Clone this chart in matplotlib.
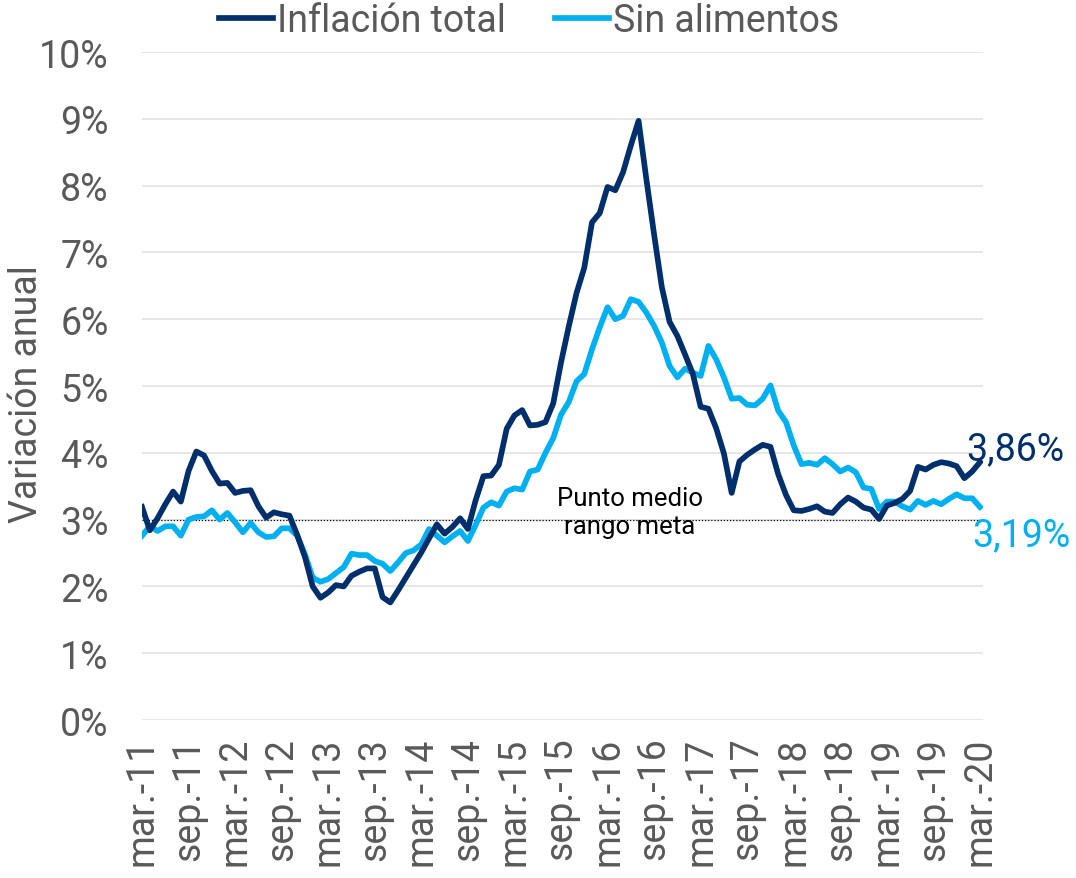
import matplotlib
matplotlib.use("Agg")
import matplotlib.pyplot as plt

# Monthly annual inflation, mar-2011 .. mar-2020
inflacion_total = [
    3.19, 2.84, 3.02, 3.23, 3.42, 3.27, 3.73, 4.02, 3.96, 3.73,
    3.54, 3.55, 3.40, 3.43, 3.44, 3.20, 3.03, 3.11, 3.08, 3.06, 2.77, 2.44,
    2.00, 1.83, 1.91, 2.02, 2.00, 2.16, 2.22, 2.27, 2.27, 1.84, 1.76, 1.94,
    2.13, 2.32, 2.51, 2.72, 2.93, 2.79, 2.89, 3.02, 2.86, 3.29, 3.65, 3.66,
    3.82, 4.36, 4.56, 4.64, 4.41, 4.42, 4.46, 4.74, 5.35, 5.89, 6.39, 6.77,
    7.45, 7.59, 7.98, 7.93, 8.20, 8.60, 8.97, 8.10, 7.27, 6.48, 5.96, 5.75,
    5.47, 5.18, 4.69, 4.66, 4.37, 3.99, 3.40, 3.87, 3.97, 4.05, 4.12, 4.09,
    3.68, 3.37, 3.14, 3.13, 3.16, 3.20, 3.12, 3.10, 3.23, 3.33, 3.27, 3.18,
    3.15, 3.01, 3.21, 3.25, 3.31, 3.43, 3.79, 3.75, 3.82, 3.86, 3.84, 3.80,
    3.62, 3.72, 3.86,
]

sin_alimentos = [
    2.76, 2.90, 2.83, 2.90, 2.90, 2.76, 3.00, 3.04, 3.05, 3.14,
    3.00, 3.10, 2.96, 2.81, 2.95, 2.81, 2.74, 2.75, 2.87, 2.87, 2.76, 2.48,
    2.13, 2.07, 2.11, 2.20, 2.29, 2.49, 2.47, 2.47, 2.38, 2.34, 2.23, 2.36,
    2.50, 2.54, 2.63, 2.86, 2.76, 2.66, 2.75, 2.83, 2.68, 2.92, 3.18, 3.26,
    3.21, 3.42, 3.47, 3.45, 3.72, 3.75, 4.00, 4.22, 4.57, 4.76, 5.07, 5.18,
    5.55, 5.88, 6.18, 6.00, 6.05, 6.30, 6.26, 6.10, 5.90, 5.65, 5.30, 5.13,
    5.26, 5.20, 5.15, 5.60, 5.40, 5.13, 4.81, 4.82, 4.72, 4.71, 4.81, 5.01,
    4.63, 4.46, 4.11, 3.83, 3.85, 3.82, 3.92, 3.83, 3.72, 3.78, 3.71, 3.48,
    3.46, 3.16, 3.27, 3.27, 3.20, 3.15, 3.28, 3.22, 3.28, 3.23, 3.31, 3.38,
    3.32, 3.32, 3.19,
]

tick_labels = [
    "mar.-11", "sep.-11", "mar.-12", "sep.-12", "mar.-13", "sep.-13",
    "mar.-14", "sep.-14", "mar.-15", "sep.-15", "mar.-16", "sep.-16",
    "mar.-17", "sep.-17", "mar.-18", "sep.-18", "mar.-19", "sep.-19",
    "mar.-20",
]

meta = 3.0

DARK = "#002F6C"
LIGHT = "#00B0F0"
GREY = "#595959"


def main():
    plt.rcParams["font.family"] = ["Roboto", "DejaVu Sans"]

    fig = plt.figure(figsize=(10.76, 8.79), dpi=100)
    ax = fig.add_axes([0.132, 0.1797, 0.7816, 0.76])

    x = list(range(len(inflacion_total)))
    ax.plot(x, inflacion_total, color=DARK, lw=4.1, label="Inflación total",
            solid_joinstyle="round", zorder=3)
    ax.plot(x, sin_alimentos, color=LIGHT, lw=4.1, label="Sin alimentos",
            solid_joinstyle="round", zorder=2)

    # target line
    ax.axhline(meta, color="black", lw=0.9, ls=(0, (1, 1.5)), zorder=1)
    ax.text(62.9, 3.12, "Punto medio\nrango meta", ha="center", va="center",
            fontsize=18.5, color="black", linespacing=1.2)

    # end labels
    n = len(inflacion_total) - 1
    ax.text(106.3, 4.06, f"{inflacion_total[n]:.2f}%".replace(".", ","),
            color=DARK, fontsize=27, ha="left", va="center")
    ax.text(107.0, 2.77, f"{sin_alimentos[n]:.2f}%".replace(".", ","),
            color=LIGHT, fontsize=27, ha="left", va="center")

    ax.set_xlim(0, 108.4)
    ax.set_ylim(0, 10)
    ax.set_yticks(range(0, 11))
    ax.set_yticklabels([f"{v}%" for v in range(0, 11)])
    ax.set_xticks(range(0, len(inflacion_total), 6))
    ax.set_xticklabels(tick_labels, rotation=90)

    ax.tick_params(axis="both", length=0, labelsize=27, labelcolor=GREY)
    ax.tick_params(axis="x", pad=12)
    ax.tick_params(axis="y", pad=24)

    ax.grid(axis="y", color="#E3E3E3", lw=1.2)
    ax.set_axisbelow(True)
    for s in ax.spines.values():
        s.set_visible(False)

    ax.set_ylabel("Variación anual", fontsize=27, color=GREY)
    ax.yaxis.set_label_coords(-0.115, 0.49)

    fig.legend(loc="center", bbox_to_anchor=(0.4916, 0.975), ncol=2,
               frameon=False, fontsize=27, labelcolor=GREY,
               handlelength=1.45, handletextpad=0.1, columnspacing=1.3,
               borderaxespad=0)

    fig.savefig("out.png", dpi=100)


if __name__ == "__main__":
    main()
